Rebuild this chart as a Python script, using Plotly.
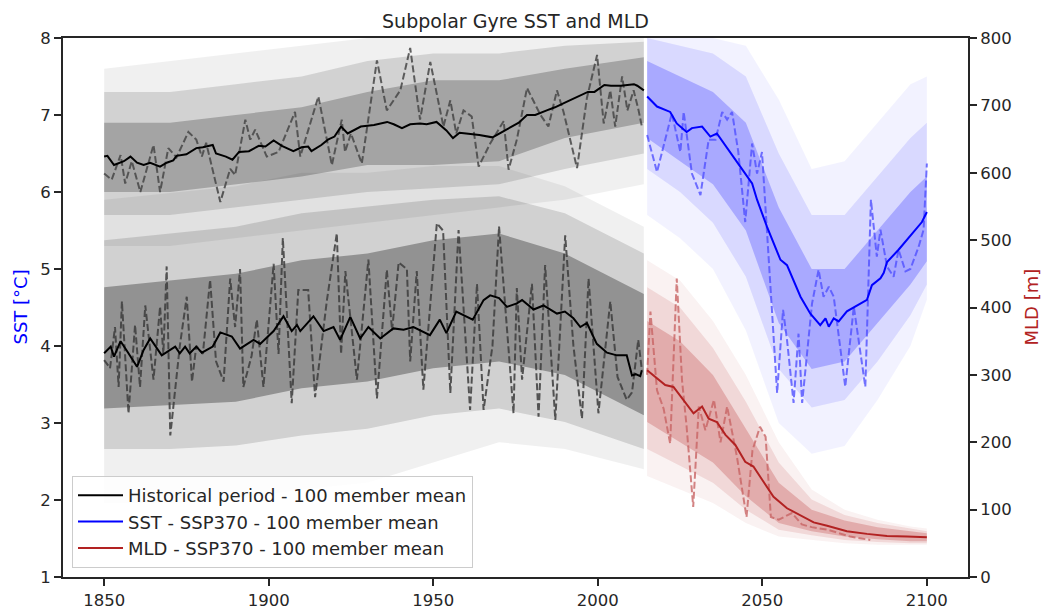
import plotly.graph_objects as go

# ---------------- data ----------------
# Historical SST 100-member mean (degC)
hist_sst_years = [1850, 1851, 1853, 1856, 1858, 1860, 1862, 1864, 1867, 1869, 1871, 1872, 1875, 1878, 1880,
                  1883, 1884, 1887, 1889, 1891, 1894, 1897, 1899, 1901.5, 1904, 1907.5, 1910, 1912, 1913, 1916,
                  1918, 1920, 1922, 1924, 1928, 1932, 1936, 1938, 1940.5, 1943, 1946, 1948, 1951, 1954, 1956,
                  1958, 1960, 1964, 1968, 1971, 1974, 1976, 1978.5, 1981, 1984.5, 1987, 1990.5, 1993, 1995,
                  1997, 1999, 2002, 2004, 2007, 2009, 2011, 2012, 2014]
hist_sst_mean = [6.46, 6.47, 6.35, 6.40, 6.46, 6.38, 6.35, 6.38, 6.33, 6.38, 6.41, 6.47, 6.49, 6.57, 6.58,
                 6.61, 6.50, 6.46, 6.42, 6.52, 6.53, 6.60, 6.59, 6.67, 6.60, 6.53, 6.58, 6.59, 6.53, 6.61,
                 6.68, 6.72, 6.85, 6.76, 6.85, 6.87, 6.91, 6.88, 6.83, 6.88, 6.89, 6.88, 6.91, 6.80, 6.70,
                 6.77, 6.76, 6.74, 6.71, 6.78, 6.85, 6.90, 7.00, 7.00, 7.06, 7.10, 7.17, 7.22, 7.25,
                 7.30, 7.30, 7.39, 7.38, 7.38, 7.39, 7.40, 7.38, 7.32]

# Historical SST, one example member (dashed)
hist_sst_member_years = [1850, 1852.3, 1855, 1856.4, 1858.4, 1861, 1865, 1867, 1869.5, 1872, 1875.6, 1878,
                         1879.7, 1881, 1885.3, 1888.3, 1889.8, 1892.9, 1894.4, 1895.9, 1899.4, 1903, 1908,
                         1909.6, 1915.1, 1919.2, 1922.2, 1923.2, 1925, 1928.3, 1932.9, 1935.9, 1940, 1943,
                         1946, 1949.1, 1953.1, 1955.2, 1957, 1959.2, 1961.7, 1963.8, 1967.3, 1971.4, 1972.9,
                         1975.4, 1978.5, 1982.6, 1985, 1987.6, 1989.6, 1993.7, 1996.7, 1999.8, 2001.8,
                         2003.8, 2005.3, 2007.4, 2009, 2010.9, 2012.4, 2013.4]
hist_sst_member = [6.24, 6.16, 6.48, 6.11, 6.40, 6.00, 6.61, 6.00, 6.57, 6.45, 6.78, 6.68,
                   6.46, 6.64, 5.87, 6.30, 6.22, 6.94, 6.68, 6.81, 6.46, 6.52, 7.04,
                   6.46, 7.24, 6.35, 6.94, 6.52, 6.76, 6.37, 7.71, 7.06, 7.32, 7.87,
                   6.94, 7.69, 6.85, 7.19, 6.76, 7.06, 6.98, 6.33, 6.63, 6.92, 6.29,
                   6.68, 7.35, 7.00, 6.85, 7.32, 7.04, 6.31, 7.22, 7.78, 6.89,
                   7.32, 6.85, 7.50, 7.06, 7.32, 7.06, 6.85]

# Historical MLD 100-member mean (m)
hist_mld_years = [1850, 1852, 1853, 1855, 1857, 1860, 1862, 1864, 1867.5, 1871.6, 1873, 1874.6, 1876, 1878,
                  1879.7, 1883, 1885.3, 1888.8, 1891.3, 1895.4, 1897.4, 1901.5, 1904.5, 1907, 1908.6, 1909.6,
                  1913.6, 1916.7, 1919.7, 1921.7, 1924.8, 1927.8, 1930.3, 1933.9, 1937.9, 1941, 1944, 1949,
                  1952, 1954, 1957, 1962, 1965.3, 1967.3, 1970, 1972.4, 1975.4, 1977, 1980.5, 1983.5, 1987.6,
                  1990, 1992.6, 1994.7, 1996.7, 1999.7, 2002.8, 2005.8, 2008.8, 2010.4, 2011.5, 2012.9, 2013.4]
hist_mld_mean = [332, 342, 327, 350, 335, 312, 337, 354, 329, 342, 332, 342, 332, 342,
                 333, 342, 363, 357, 339, 352, 346, 365, 387, 365, 374, 365,
                 387, 365, 371, 352, 386, 354, 371, 354, 369, 367, 371, 359,
                 382, 362, 394, 382, 411, 418, 414, 401, 406, 411, 397, 403, 391,
                 394, 384, 371, 377, 346, 333, 329, 329, 299, 301, 298, 307]

# Historical MLD, one example member (dashed)
hist_mld_member_years = [1850, 1851.8, 1853.3, 1854.4, 1855.4, 1857.4, 1859.4, 1860.9, 1862.5, 1865, 1867,
                         1868, 1869, 1870.1, 1873, 1875.1, 1876.7, 1878, 1880, 1882.2, 1884, 1886.3, 1888.3,
                         1889.8, 1891.3, 1892.3, 1894.8, 1896.4, 1898.4, 1901.5, 1903, 1904.3, 1907, 1909,
                         1912, 1914.1, 1917.7, 1920.7, 1922, 1923.3, 1925, 1926.8, 1930.3, 1932.9, 1935.9,
                         1937.5, 1939.5, 1942, 1943, 1945, 1947, 1951.1, 1953, 1955.2, 1957.7, 1961.2, 1963.3,
                         1965.3, 1968, 1970, 1974.4, 1975.4, 1977, 1980, 1982, 1984, 1987.1, 1990.1, 1992.6,
                         1995.2, 1997.2, 2000.2, 2003.8, 2006, 2008.8, 2010.4, 2012.3, 2013.4]
hist_mld_member = [322, 310, 371, 282, 409, 243, 374, 282, 403, 293, 401,
                   331, 461, 210, 343, 416, 290, 343, 331, 441, 320, 290, 443,
                   371, 457, 282, 328, 382, 282, 465, 331, 503, 258, 426,
                   426, 267, 411, 510, 331, 454, 377, 293, 471, 265, 456,
                   366, 467, 457, 320, 454, 278, 525, 514, 273, 515, 248, 435,
                   248, 343, 520, 243, 429, 293, 435, 238, 463, 233, 507, 343,
                   235, 443, 243, 409, 297, 263, 274, 352, 307]

# SSP370 SST 100-member mean (degC)
ssp_sst_years = [2015, 2018, 2022, 2024, 2027, 2028.6, 2031.7, 2034.2, 2036.2, 2040.3, 2043.3, 2046.9, 2048.4,
                 2051.4, 2055.5, 2057.5, 2061.6, 2064.6, 2067.6, 2069.2, 2070.2, 2071.7, 2073.2, 2075.7,
                 2079.8, 2081.8, 2083.3, 2085.9, 2086.9, 2087.9, 2091.4, 2095, 2098.5, 2100]
ssp_sst_mean = [7.24, 7.11, 7.04, 6.89, 6.78, 6.83, 6.85, 6.72, 6.76, 6.52, 6.33, 6.11, 5.90,
                5.55, 5.12, 5.05, 4.64, 4.42, 4.27, 4.36, 4.25, 4.36, 4.32, 4.45,
                4.55, 4.60, 4.79, 4.88, 4.95, 5.09, 5.25, 5.44, 5.61, 5.74]

# SSP370 SST, one example member (dashed)
ssp_sst_member_years = [2015, 2018, 2022.5, 2025.1, 2026.1, 2028.6, 2031.2, 2033.7, 2035.8, 2037.8, 2039.3,
                        2040.8, 2042.7, 2044.8, 2046.9, 2048.4, 2049.9, 2051.9, 2054.5, 2056.3, 2057.5, 2059.5,
                        2061, 2062.1, 2065.1, 2067.1, 2068.6, 2070.2, 2071.7, 2075.2, 2077.8, 2081.3, 2083,
                        2084.8, 2085.9, 2087.9, 2089.9, 2091.4, 2093.5, 2095, 2096, 2097.5, 2099, 2100]
ssp_sst_member = [6.74, 6.26, 7.02, 6.52, 7.04, 6.24, 5.96, 6.68, 6.68, 7.04, 6.94,
                  7.04, 6.52, 5.61, 6.63, 6.24, 6.52, 5.16, 3.39, 4.47, 4.08, 3.26,
                  4.16, 3.26, 4.55, 4.99, 4.64, 4.77, 4.64, 3.47, 4.51, 3.47, 5.90,
                  5.16, 5.51, 5.03, 4.90, 5.25, 4.97, 5.00, 5.12, 5.29, 5.51, 6.37]

# SSP370 MLD 100-member mean (m)
ssp_mld_years = [2015, 2018, 2020.5, 2023, 2025.6, 2027.6, 2029.1, 2031.7, 2033.7, 2036.2, 2038.8, 2041.8,
                 2044.8, 2047.3, 2049.9, 2053.4, 2057.5, 2061.6, 2065.6, 2069.7, 2075.7, 2081.8, 2087.9,
                 2094, 2100]
ssp_mld_mean = [307, 295, 285, 282, 265, 253, 243, 253, 235, 230, 211, 196,
                171, 164, 144, 119, 102, 92, 81, 76, 68, 64, 61, 60, 59]

# SSP370 MLD, one example member (dashed)
ssp_mld_member_years = [2015, 2016, 2018, 2020, 2022, 2024, 2025.6, 2027, 2029, 2030.7, 2032.7, 2035.3, 2037.3,
                        2039.3, 2042.3, 2045.2, 2047, 2049.3, 2051, 2052.6, 2055, 2059, 2062, 2065, 2070,
                        2076.7, 2082.8]
ssp_mld_member = [300, 394, 277, 250, 198, 443, 292, 223, 104, 253, 218, 263, 200,
                  253, 178, 89, 188, 223, 208, 89, 85, 95, 78, 74, 70, 60, 55]

# Ensemble spread envelopes (outer = faint extremes, mid, inner = dense core)
hist_env_years = [1850, 1870, 1890, 1910, 1930, 1950, 1970, 1990, 2014]
hist_sst_outer_hi = [7.6, 7.7, 7.8, 7.9, 8.0, 8.0, 8.0, 8.0, 8.0]
hist_sst_mid_hi = [7.3, 7.3, 7.4, 7.5, 7.7, 7.8, 7.8, 7.9, 7.95]
hist_sst_inner_hi = [6.9, 6.9, 7.0, 7.1, 7.3, 7.45, 7.45, 7.6, 7.75]
hist_sst_inner_lo = [6.0, 6.0, 6.1, 6.2, 6.35, 6.35, 6.4, 6.7, 6.9]
hist_sst_mid_lo = [5.7, 5.7, 5.8, 5.9, 6.0, 6.05, 6.1, 6.3, 6.5]
hist_sst_outer_lo = [5.3, 5.3, 5.4, 5.5, 5.6, 5.7, 5.8, 5.9, 6.1]

hist_mld_outer_hi = [560, 570, 580, 600, 600, 610, 610, 580, 520]
hist_mld_mid_hi = [500, 510, 520, 540, 550, 560, 565, 540, 480]
hist_mld_inner_hi = [430, 440, 450, 470, 480, 500, 510, 480, 420]
hist_mld_inner_lo = [250, 255, 260, 280, 290, 310, 320, 300, 240]
hist_mld_mid_lo = [190, 190, 195, 210, 220, 240, 250, 230, 190]
hist_mld_outer_lo = [110, 110, 115, 130, 140, 170, 200, 190, 160]

ssp_env_years = [2015, 2025, 2035, 2045, 2055, 2065, 2075, 2085, 2095, 2100]
ssp_sst_outer_hi = [8.0, 8.0, 8.0, 7.9, 7.2, 6.3, 6.4, 6.9, 7.4, 7.5]
ssp_sst_mid_hi = [8.0, 7.9, 7.8, 7.5, 6.5, 5.7, 5.7, 6.2, 6.7, 6.9]
ssp_sst_inner_hi = [7.7, 7.5, 7.3, 6.9, 5.8, 5.0, 5.0, 5.5, 6.0, 6.2]
ssp_sst_inner_lo = [6.7, 6.4, 6.1, 5.5, 4.3, 3.7, 3.8, 4.3, 4.8, 5.1]
ssp_sst_mid_lo = [6.3, 6.0, 5.6, 4.9, 3.7, 3.2, 3.3, 3.8, 4.4, 4.8]
ssp_sst_outer_lo = [5.7, 5.4, 5.0, 4.2, 3.0, 2.6, 2.7, 3.3, 4.0, 4.6]

ssp_mld_outer_hi = [470, 440, 380, 300, 200, 130, 100, 85, 75, 72]
ssp_mld_mid_hi = [430, 400, 340, 260, 170, 115, 92, 80, 72, 68]
ssp_mld_inner_hi = [380, 350, 300, 220, 140, 100, 84, 74, 68, 65]
ssp_mld_inner_lo = [230, 200, 170, 120, 80, 68, 60, 56, 53, 53]
ssp_mld_mid_lo = [190, 165, 140, 100, 70, 62, 55, 52, 50, 50]
ssp_mld_outer_lo = [150, 130, 110, 80, 60, 55, 50, 48, 48, 48]

x_ticks = [1850, 1900, 1950, 2000, 2050, 2100]
sst_ticks = [1, 2, 3, 4, 5, 6, 7, 8]
mld_ticks = [0, 100, 200, 300, 400, 500, 600, 700, 800]

# ---------------- figure ----------------
FONT = "DejaVu Sans"
INK = "#262626"
W, H = 1041, 609
L, R, T, B = 63, 968, 38, 577   # plot area in pixels
fig = go.Figure()


def band(xs, hi, lo, color, yaxis):
    fig.add_trace(go.Scatter(
        x=list(xs) + list(xs)[::-1], y=list(hi) + list(lo)[::-1],
        fill="toself", fillcolor=color, line=dict(width=0),
        mode="lines", hoverinfo="skip", showlegend=False, yaxis=yaxis))


def dashed(xs, ys, color, yaxis):
    fig.add_trace(go.Scatter(x=xs, y=ys, mode="lines", hoverinfo="skip",
                             line=dict(color=color, width=2, dash="7px,3px"),
                             showlegend=False, yaxis=yaxis))


# SST (left axis)
band(hist_env_years, hist_sst_outer_hi, hist_sst_outer_lo, "rgba(0,0,0,0.06)", "y")
band(hist_env_years, hist_sst_mid_hi, hist_sst_mid_lo, "rgba(0,0,0,0.12)", "y")
band(hist_env_years, hist_sst_inner_hi, hist_sst_inner_lo, "rgba(0,0,0,0.22)", "y")
band(ssp_env_years, ssp_sst_outer_hi, ssp_sst_outer_lo, "rgba(0,0,255,0.05)", "y")
band(ssp_env_years, ssp_sst_mid_hi, ssp_sst_mid_lo, "rgba(0,0,255,0.10)", "y")
band(ssp_env_years, ssp_sst_inner_hi, ssp_sst_inner_lo, "rgba(0,0,255,0.22)", "y")

dashed(hist_sst_member_years, hist_sst_member, "rgba(70,70,70,0.85)", "y")
dashed(ssp_sst_member_years, ssp_sst_member, "rgba(80,80,255,0.8)", "y")
fig.add_trace(go.Scatter(x=hist_sst_years, y=hist_sst_mean, mode="lines",
                         line=dict(color="black", width=2),
                         name="Historical period - 100 member mean", yaxis="y"))
fig.add_trace(go.Scatter(x=ssp_sst_years, y=ssp_sst_mean, mode="lines",
                         line=dict(color="blue", width=2),
                         name="SST - SSP370 - 100 member mean", yaxis="y"))

# MLD (right axis)
band(hist_env_years, hist_mld_outer_hi, hist_mld_outer_lo, "rgba(0,0,0,0.06)", "y2")
band(hist_env_years, hist_mld_mid_hi, hist_mld_mid_lo, "rgba(0,0,0,0.13)", "y2")
band(hist_env_years, hist_mld_inner_hi, hist_mld_inner_lo, "rgba(0,0,0,0.30)", "y2")
band(ssp_env_years, ssp_mld_outer_hi, ssp_mld_outer_lo, "rgba(178,34,34,0.06)", "y2")
band(ssp_env_years, ssp_mld_mid_hi, ssp_mld_mid_lo, "rgba(178,34,34,0.12)", "y2")
band(ssp_env_years, ssp_mld_inner_hi, ssp_mld_inner_lo, "rgba(178,34,34,0.24)", "y2")

dashed(hist_mld_member_years, hist_mld_member, "rgba(60,60,60,0.85)", "y2")
dashed(ssp_mld_member_years, ssp_mld_member, "rgba(200,100,100,0.8)", "y2")
fig.add_trace(go.Scatter(x=hist_mld_years, y=hist_mld_mean, mode="lines",
                         line=dict(color="black", width=2), showlegend=False, yaxis="y2"))
fig.add_trace(go.Scatter(x=ssp_mld_years, y=ssp_mld_mean, mode="lines",
                         line=dict(color="firebrick", width=2),
                         name="MLD - SSP370 - 100 member mean", yaxis="y2"))

axis_common = dict(showgrid=False, zeroline=False, showline=True, linecolor=INK, linewidth=2,
                   ticks="outside", ticklen=7, tickwidth=1.5, tickcolor=INK, automargin=False,
                   tickfont=dict(family=FONT, size=16.5, color=INK))

fig.update_layout(
    width=W, height=H,
    margin=dict(l=L, r=W - R, t=T, b=H - B, autoexpand=False),
    paper_bgcolor="white", plot_bgcolor="white",
    font=dict(family=FONT, color=INK),
    title=dict(text="Subpolar Gyre SST and MLD", x=(L + R) / 2 / W, xanchor="center",
               y=1 - 21 / H, yanchor="middle", font=dict(family=FONT, size=19, color=INK)),
    xaxis=dict(range=[1837.5, 2112.5], tickvals=x_ticks, mirror=True, **axis_common),
    yaxis=dict(range=[1, 8], tickvals=sst_ticks, **axis_common),
    yaxis2=dict(range=[0, 800], tickvals=mld_ticks, overlaying="y", side="right", **axis_common),
    legend=dict(x=(72 - L) / (R - L), y=(B - 568) / (B - T), xanchor="left", yanchor="bottom",
                bgcolor="rgba(255,255,255,0.85)", bordercolor="#cccccc", borderwidth=1,
                font=dict(family=FONT, size=18, color=INK), itemwidth=45, tracegroupgap=0),
    annotations=[
        dict(text="SST [°C]", xref="paper", yref="paper", x=(20 - L) / (R - L), y=0.5,
             xanchor="center", yanchor="middle", textangle=-90, showarrow=False,
             font=dict(family=FONT, size=18, color="blue")),
        dict(text="MLD [m]", xref="paper", yref="paper", x=(1031 - L) / (R - L), y=0.5,
             xanchor="center", yanchor="middle", textangle=-90, showarrow=False,
             font=dict(family=FONT, size=18, color="firebrick")),
    ],
)

# remove the page's default body margin so the 1041x609 figure fills the window exactly
fig.write_html("out.html",
               config={"displayModeBar": False},
               post_script="document.body.style.margin='0';document.documentElement.style.overflow='hidden';")
